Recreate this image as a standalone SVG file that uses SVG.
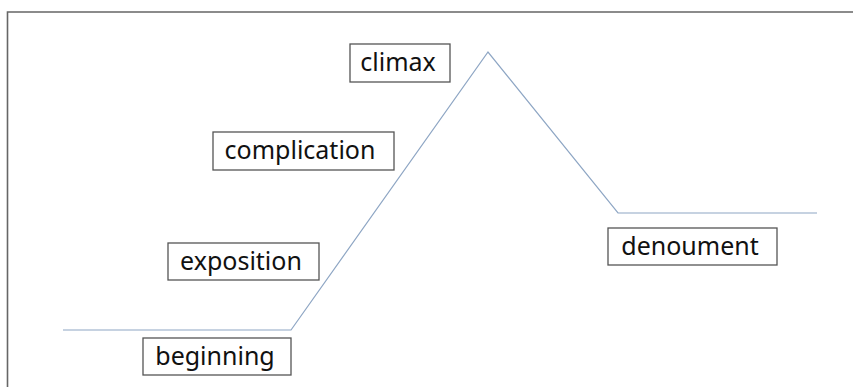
<svg xmlns="http://www.w3.org/2000/svg" width="853" height="387" viewBox="0 0 853 387">
<style>
.box{fill:#fff;stroke:#555;stroke-width:1.3}
.lbl{font-family:"Noto Sans","Open Sans",sans-serif;font-size:25px;fill:#111;text-anchor:middle}
.arc{fill:none;stroke:#8ea6c4;stroke-width:1.2}
.frame{fill:none;stroke:#666;stroke-width:1.6}
</style>
<rect width="853" height="387" fill="#fff"/>
<path class="frame" d="M7.5,387 V12 H853"/>
<g id="connectors">
<polyline class="arc" points="63,330 291,330 488,52 618,213 817,213"/>
</g>
<g id="climax"><rect class="box" x="350" y="44" width="100" height="38"/><text class="lbl" x="398" y="71">climax</text></g>
<g id="complication"><rect class="box" x="213" y="132" width="181" height="38"/><text class="lbl" x="300" y="159">complication</text></g>
<g id="exposition"><rect class="box" x="168" y="243" width="151" height="37"/><text class="lbl" x="241" y="270">exposition</text></g>
<g id="beginning"><rect class="box" x="143" y="338" width="148" height="37"/><text class="lbl" x="215" y="365">beginning</text></g>
<g id="denoument"><rect class="box" x="608" y="228" width="169" height="37"/><text class="lbl" x="690" y="255">denoument</text></g>
</svg>
